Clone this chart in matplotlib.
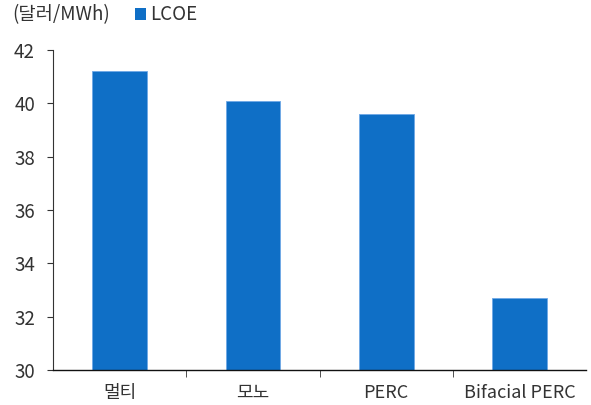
import matplotlib
matplotlib.use("Agg")
import matplotlib.pyplot as plt
from matplotlib.patches import Patch

plt.rcParams['font.family'] = ['Noto Sans CJK KR', 'DejaVu Sans']

categories = ['멀티', '모노', 'PERC', 'Bifacial PERC']
lcoe = [41.2, 40.1, 39.6, 32.7]
y_ticks = [30, 32, 34, 36, 38, 40, 42]

text_color = '#333333'
bar_color = '#0f6fc6'

fig = plt.figure(figsize=(5.91, 4.05), dpi=100)
ax = fig.add_axes([0.0897, 0.0864, 0.902, 0.79])

x = range(len(categories))
ax.bar(x, lcoe, width=0.41, color=bar_color, edgecolor='#6fa8e6', linewidth=0.6, zorder=2)

ax.set_xlim(-0.5, len(categories) - 0.5)
ax.set_ylim(30, 42)
ax.set_yticks(y_ticks)
ax.set_xticks(list(x))
ax.set_xticklabels(categories)
ax.set_xticks([i + 0.5 for i in range(len(categories) - 1)], minor=True)

ax.tick_params(axis='x', which='major', length=0, pad=10, labelsize=13, colors=text_color)
ax.tick_params(axis='x', which='minor', length=5, direction='out', color='#333333')
ax.tick_params(axis='y', length=4, direction='out', labelsize=13.5, colors=text_color, pad=9)

for side in ['top', 'right']:
    ax.spines[side].set_visible(False)
ax.spines['left'].set_color('#333333')
ax.spines['bottom'].set_color('#111111')
ax.spines['left'].set_linewidth(0.8)
ax.spines['bottom'].set_linewidth(1.0)

fig.text(0.02, 0.963, '(달러/MWh)', fontsize=13.5, color=text_color, va='center', ha='left')
fig.legend(handles=[Patch(facecolor=bar_color, label='LCOE')],
           loc='center left', bbox_to_anchor=(0.213, 0.963), frameon=False,
           fontsize=13.5, handlelength=0.55, handleheight=0.55, handletextpad=0.25,
           labelcolor=text_color, borderpad=0)

fig.savefig('out.png', dpi=100)
